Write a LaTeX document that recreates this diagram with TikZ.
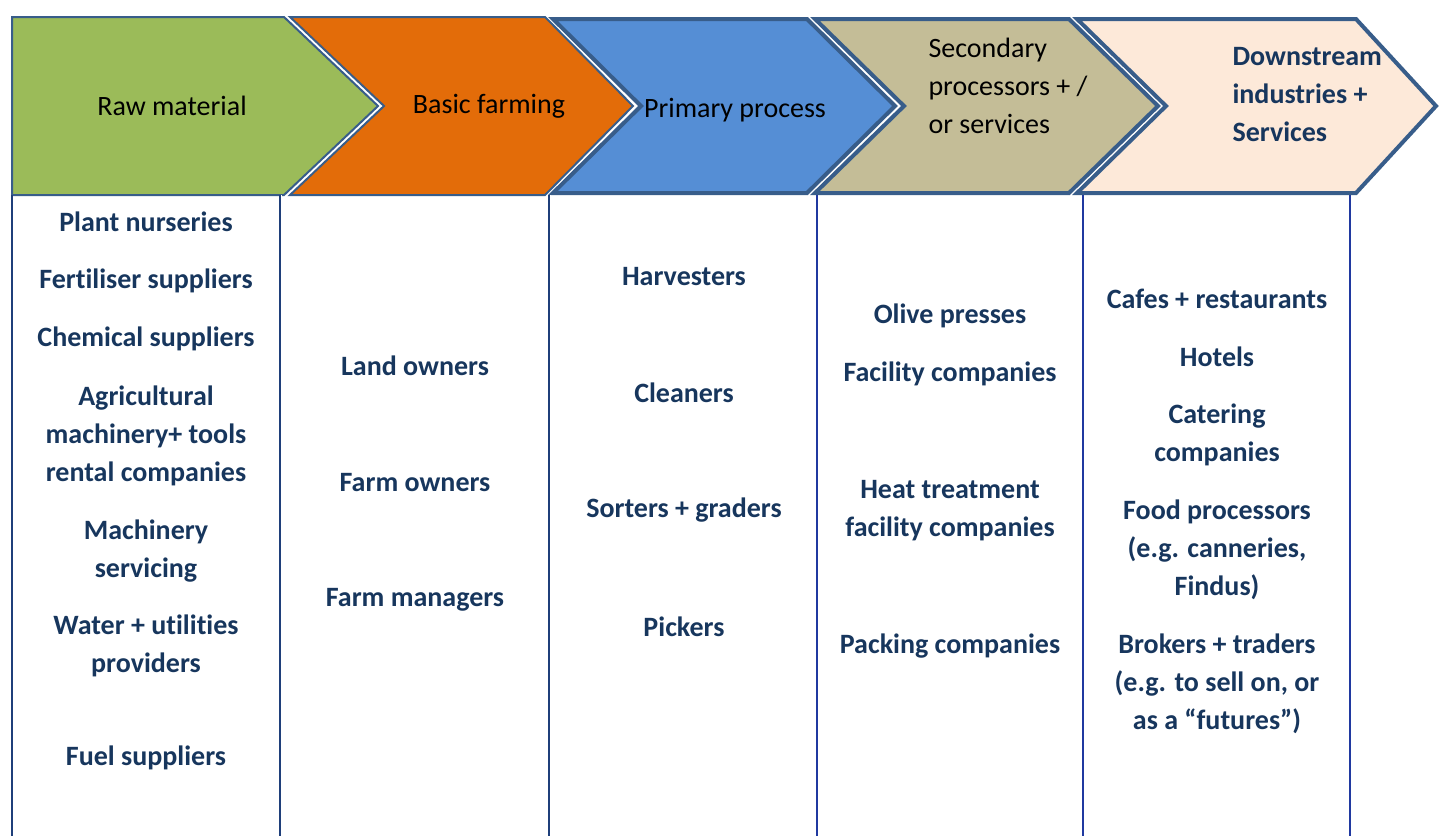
\documentclass[tikz,border=0pt]{standalone}
\usepackage{fontspec}
\setmainfont{Carlito}[Ligatures={NoCommon,NoContextual}]
\usepackage{xcolor}
\definecolor{rawgreen}{HTML}{9BBB59}
\definecolor{farmorange}{HTML}{E36C09}
\definecolor{primblue}{HTML}{558ED5}
\definecolor{sectan}{HTML}{C4BD97}
\definecolor{downpeach}{HTML}{FDE9D9}
\definecolor{edgeblue}{HTML}{385D8A}
\definecolor{itemblue}{HTML}{17365D}
\definecolor{rulenavy}{HTML}{1F3F7A}
\definecolor{ruleblue}{HTML}{2039A0}

\tikzset{
  head/.style={font=\fontsize{28}{38}\selectfont, text=black},
  item/.style={font=\bfseries\fontsize{28}{38}\selectfont, text=itemblue, align=center},
  chev/.style={draw=edgeblue, line join=miter}
}

\begin{document}
\begin{tikzpicture}[x=1pt, y=-1pt]
        \useasboundingbox (0,0) rectangle (1439,836);

        % value chain arrows
        \draw [chev, fill=rawgreen, line width=2pt] (12,17) -- (284,17) -- (378,106) -- (284,195) -- (12,195) -- cycle;
        \draw [chev, fill=farmorange, line width=2pt] (290,17) -- (545,17) -- (633,106) -- (545,195) -- (290,195) -- (384,106) -- cycle;
        \draw [chev, fill=primblue, line width=4pt] (553,19) -- (807,19) -- (895,106) -- (807,193) -- (553,193) -- (641,106) -- cycle;
        \draw [chev, fill=sectan, line width=4pt] (815,19) -- (1069,19) -- (1158,106) -- (1069,193) -- (815,193) -- (904,106) -- cycle;
        \draw [chev, fill=downpeach, line width=4pt] (1077,19) -- (1356,19) -- (1436,106) -- (1356,193) -- (1077,193) -- (1166,106) -- cycle;

        \node [head] (rawmat) at (172,106) {Raw material};
        \node [head] (basicfarm) at (489,106) {Basic farming};
        \node [head] (primproc) at (735,110) {Primary process};
        \node [head, align=left, anchor=west] (secproc) at (925,86) {Secondary\\processors + /\\or services};
        \node [head, align=left, anchor=west, font=\bfseries\fontsize{28}{38}\selectfont, text=itemblue] (downind) at (1229,95) {Downstream\\industries +\\Services};

        % column rules
        \draw [rulenavy, line width=2.5pt] (12,195) -- (12,836);
        \draw [rulenavy, line width=3pt] (280,195) -- (280,836);
        \draw [white, line width=0.8pt] (281,195) -- (281,836);
        \draw [rulenavy, line width=3pt] (549,195) -- (549,836);
        \draw [white, line width=0.8pt] (550,195) -- (550,836);
        \draw [ruleblue, line width=2pt] (817,195) -- (817,836);
        \draw [ruleblue, line width=2pt] (1083,195) -- (1083,836);
        \draw [ruleblue, line width=1.5pt] (1350,195) -- (1350,836);

        % raw material
        \node [item] (nursery) at (146,222) {Plant nurseries};
        \node [item] (fertsup) at (146,281) {Fertiliser suppliers};
        \node [item] (chemsup) at (146,339) {Chemical suppliers};
        \node [item] (agrimach) at (146,436) {Agricultural\\machinery+ tools\\rental companies};
        \node [item] (machserv) at (146,551) {Machinery\\servicing};
        \node [item] (water) at (146,646) {Water + utilities\\providers};
        \node [item] (fuelsup) at (146,758) {Fuel suppliers};

        % basic farming
        \node [item] (landown) at (415,366) {Land owners};
        \node [item] (farmown) at (415,483) {Farm owners};
        \node [item] (farmman) at (415,600) {Farm managers};

        % primary process
        \node [item] (harvest) at (684,277) {Harvesters};
        \node [item] (cleaner) at (684,393) {Cleaners};
        \node [item] (sorter) at (684,510) {Sorters + graders};
        \node [item] (picker) at (684,627) {Pickers};

        % secondary processors
        \node [item] (olive) at (950,316) {Olive presses};
        \node [item] (facility) at (950,374) {Facility companies};
        \node [item] (heat) at (950,511) {Heat treatment\\facility companies};
        \node [item] (packing) at (950,646) {Packing companies};

        % downstream
        \node [item] (cafes) at (1217,299) {Cafes + restaurants};
        \node [item] (hotels) at (1217,357) {Hotels};
        \node [item] (catering) at (1217,435) {Catering\\companies};
        \node [item] (foodproc) at (1217,550) {Food processors\\(e.g. canneries,\\Findus)};
        \node [item] (brokers) at (1217,684) {Brokers + traders\\(e.g. to sell on, or\\as a “futures”)};
    \end{tikzpicture}
\end{document}
